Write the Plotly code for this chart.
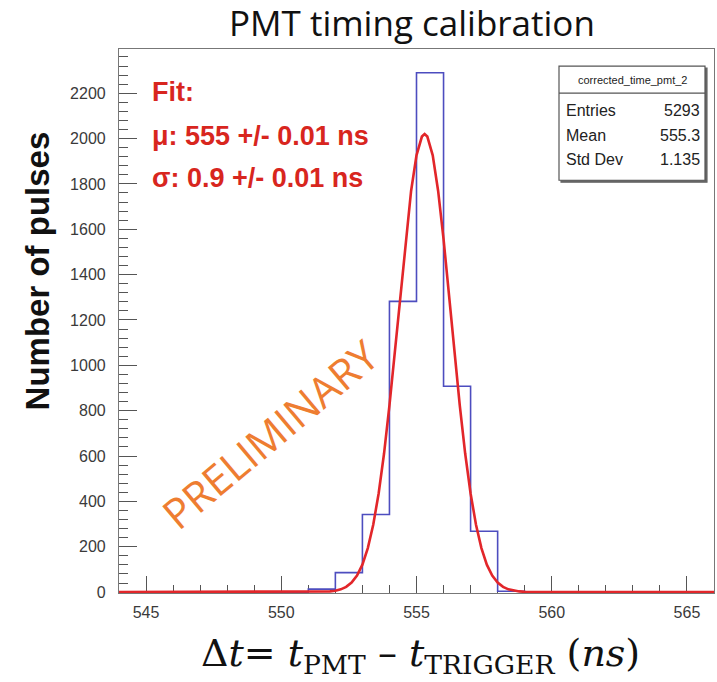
import plotly.graph_objects as go

# ---- data ----
bin_edges = [544, 545, 546, 547, 548, 549, 550, 551, 552, 553, 554, 555, 556, 557, 558, 559, 560, 561, 562, 563, 564, 565, 566]
bin_counts = [0, 0, 0, 0, 0, 0, 0, 13, 86, 342, 1282, 2290, 908, 268, 4, 0, 0, 0, 0, 0, 0, 0]

fit_x = [544.0, 551.4, 551.6, 551.8, 552.0, 552.2, 552.4, 552.6, 552.8, 553.0, 553.2, 553.4, 553.6, 553.8,
         554.0, 554.2, 554.4, 554.6, 554.8, 555.0, 555.2, 555.3, 555.4, 555.6, 555.8, 556.0,
         556.2, 556.4, 556.6, 556.8, 557.0, 557.2, 557.4, 557.6, 557.8, 558.0, 558.2, 558.4,
         558.6, 558.8, 559.0, 559.2, 566.0]
fit_y = [0, 0, 1, 3, 6, 12, 23, 42, 73, 121, 194, 297, 435, 611,
         823, 1062, 1313, 1557, 1769, 1926, 2009, 2020, 2009, 1926, 1769, 1557,
         1313, 1062, 823, 611, 435, 297, 194, 121, 73, 42, 23, 12,
         6, 3, 1, 0, 0]

stats_title = "corrected_time_pmt_2"
stats_labels = ["Entries", "Mean", "Std Dev"]
stats_values = ["5293", "555.3", "1.135"]
fit_lines = ["Fit:", "μ: 555 +/- 0.01 ns", "σ: 0.9 +/- 0.01 ns"]

W, H = 717, 682
L, R, T, B = 119, 714, 49, 592  # plot area in pixels


def px(x):
    return (x - L) / (R - L)


def py(y):
    return (B - y) / (B - T)


fig = go.Figure()

# histogram outline (step)
fig.add_trace(go.Scatter(
    x=bin_edges, y=bin_counts + [bin_counts[-1]], mode="lines", line_shape="hv",
    line=dict(color="#4d4dbf", width=1.6), hoverinfo="skip", showlegend=False))

# gaussian fit curve
fig.add_trace(go.Scatter(
    x=fit_x, y=fit_y, mode="lines", line=dict(color="#e2262a", width=2.6),
    hoverinfo="skip", showlegend=False))

tickfont = dict(family="Liberation Sans, Arial, sans-serif", size=16, color="#3a3a3a")

fig.update_layout(
    width=W, height=H,
    margin=dict(l=L, r=W - R, t=T, b=H - B - 1),
    plot_bgcolor="white", paper_bgcolor="white",
    showlegend=False,
    xaxis=dict(
        range=[544, 566], showgrid=False, zeroline=False,
        showline=True, linecolor="#777777", linewidth=1.2, mirror=True,
        ticks="inside", ticklen=17, tickwidth=1.4, tickcolor="#555555",
        tickmode="array", tickvals=[545, 550, 555, 560, 565],
        ticktext=["545", "550", "555", "560", "565"],
        minor=dict(ticks="inside", ticklen=8, tickwidth=1.4, tickcolor="#555555", dtick=1, tick0=544),
        tickfont=tickfont, ticklabelstandoff=5, layer="below traces"),
    yaxis=dict(
        range=[-4, 2395], showgrid=False, zeroline=False,
        showline=True, linecolor="#777777", linewidth=1.2, mirror=True,
        ticks="inside", ticklen=18, tickwidth=1.4, tickcolor="#555555",
        tickmode="array", tickvals=list(range(0, 2201, 200)),
        ticktext=[str(v) for v in range(0, 2201, 200)],
        minor=dict(ticks="inside", ticklen=9, tickwidth=1.4, tickcolor="#555555", dtick=40, tick0=0),
        tickfont=tickfont, ticklabelstandoff=9, layer="below traces"),
)

annotations = []
# title
annotations.append(dict(text="PMT timing calibration", x=px(412), y=py(23), xref="paper", yref="paper",
                        showarrow=False, xanchor="center", yanchor="middle",
                        font=dict(family="Open Sans", size=35, color="#111111")))
# y-axis title
annotations.append(dict(text="<b>Number of pulses</b>", x=px(37), y=py(271), xref="paper", yref="paper",
                        showarrow=False, xanchor="center", yanchor="middle", textangle=-90,
                        font=dict(family="Liberation Sans, Arial", size=33, color="#111111")))
# x-axis title
annotations.append(dict(
    text="Δ<i>t</i>= <i>t</i><sub>PMT</sub> – <i>t</i><sub>TRIGGER</sub> (<i>ns</i>)",
    x=px(420), y=py(654), xref="paper", yref="paper", showarrow=False,
    xanchor="center", yanchor="middle",
    font=dict(family="DejaVu Serif", size=38, color="#111111")))
# fit text
for txt, yy in zip(fit_lines, [92, 136, 178]):
    annotations.append(dict(text="<b>" + txt + "</b>", x=px(150), y=py(yy), xref="paper", yref="paper",
                            showarrow=False, xanchor="left", yanchor="middle",
                            font=dict(family="Liberation Sans, Arial", size=27, color="#d8261e")))
# preliminary watermark
annotations.append(dict(text="PRELIMINARY", x=px(270), y=py(433), xref="paper", yref="paper",
                        showarrow=False, xanchor="center", yanchor="middle", textangle=-40,
                        font=dict(family="Open Sans", size=42, color="#ee7d31")))

# stats box
bx0, bx1, by0, by1, bsep = 559, 705, 66, 180, 93
shapes = [
    dict(type="rect", xref="paper", yref="paper", x0=px(bx0 + 2), x1=px(bx1 + 2), y0=py(by1 + 2), y1=py(by0 + 2),
         line=dict(color="#666666", width=1.2), fillcolor="#666666", layer="above"),
    dict(type="rect", xref="paper", yref="paper", x0=px(bx0), x1=px(bx1), y0=py(by1), y1=py(by0),
         line=dict(color="#555555", width=1.2), fillcolor="white", layer="above"),
    dict(type="line", xref="paper", yref="paper", x0=px(bx0), x1=px(bx1), y0=py(bsep), y1=py(bsep),
         line=dict(color="#555555", width=1.2), layer="above"),
]
annotations.append(dict(text=stats_title, x=px((bx0 + bx1) / 2), y=py(80), xref="paper", yref="paper",
                        showarrow=False, xanchor="center", yanchor="middle",
                        font=dict(family="Liberation Sans, Arial", size=11, color="#222222")))
for lab, val, yy in zip(stats_labels, stats_values, [110, 135, 159]):
    annotations.append(dict(text=lab, x=px(bx0 + 5), y=py(yy), xref="paper", yref="paper",
                            showarrow=False, xanchor="left", yanchor="middle",
                            font=dict(family="Liberation Sans, Arial", size=16, color="#222222")))
    annotations.append(dict(text=val, x=px(bx1 - 3), y=py(yy), xref="paper", yref="paper",
                            showarrow=False, xanchor="right", yanchor="middle",
                            font=dict(family="Liberation Sans, Arial", size=16, color="#222222")))

fig.update_layout(annotations=annotations, shapes=shapes)
fig.write_html("out.html")
